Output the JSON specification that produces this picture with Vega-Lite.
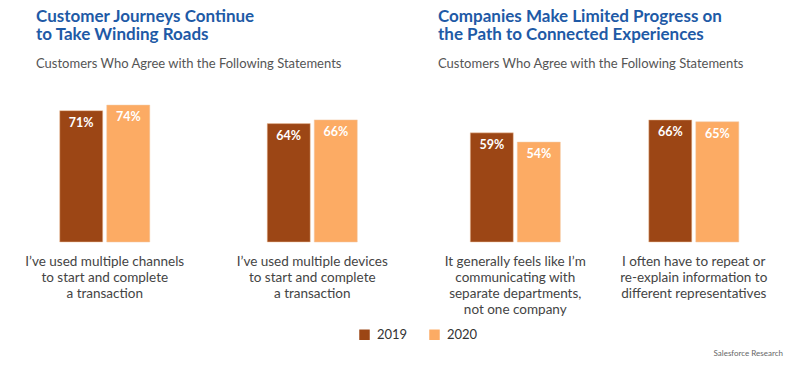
{
  "$schema": "https://vega.github.io/schema/vega-lite/v6.json",
  "padding": {"left": 1, "top": 8, "right": 15, "bottom": 6},
  "data": {"values": [
    {"panel": 1, "statement": "I’ve used multiple channels|to start and complete|a transaction", "year": "2019", "value": 71, "label": "71%"},
    {"panel": 1, "statement": "I’ve used multiple channels|to start and complete|a transaction", "year": "2020", "value": 74, "label": "74%"},
    {"panel": 1, "statement": "I’ve used multiple devices|to start and complete|a transaction", "year": "2019", "value": 64, "label": "64%"},
    {"panel": 1, "statement": "I’ve used multiple devices|to start and complete|a transaction", "year": "2020", "value": 66, "label": "66%"},
    {"panel": 2, "statement": "It generally feels like I’m|communicating with|separate departments,|not one company", "year": "2019", "value": 59, "label": "59%"},
    {"panel": 2, "statement": "It generally feels like I’m|communicating with|separate departments,|not one company", "year": "2020", "value": 54, "label": "54%"},
    {"panel": 2, "statement": "I often have to repeat or|re-explain information to|different representatives", "year": "2019", "value": 66, "label": "66%"},
    {"panel": 2, "statement": "I often have to repeat or|re-explain information to|different representatives", "year": "2020", "value": 65, "label": "65%"}
  ]},
  "title": {"text": "Salesforce Research", "orient": "bottom", "anchor": "end", "fontSize": 8, "font": "Lato", "fontWeight": "normal", "color": "#666", "offset": 8},
  "spacing": 10,
  "hconcat": [
    {
      "width": 415,
      "height": 148,
      "title": {"text": ["Customer Journeys Continue", "to Take Winding Roads"], "subtitle": "Customers Who Agree with the Following Statements", "dx": 35},
      "transform": [{"filter": "datum.panel == 1"}],
      "encoding": {
        "x": {"field": "statement", "type": "nominal", "sort": null, "title": null,
              "scale": {"paddingInner": 0.566, "paddingOuter": 0.283},
              "axis": {"labelExpr": "split(datum.value, '|')"}},
        "xOffset": {"field": "year", "type": "nominal", "scale": {"paddingInner": 0.085, "paddingOuter": 0}},
        "y": {"field": "value", "type": "quantitative", "scale": {"domain": [0, 80]}, "axis": null}
      },
      "layer": [
        {"mark": {"type": "bar", "strokeWidth": 1, "strokeOpacity": 0.5, "stroke": "#f3c9a6"},
         "encoding": {"color": {"field": "year", "type": "nominal", "title": null,
            "scale": {"domain": ["2019", "2020"], "range": ["#9c4615", "#fcab64"]},
            "legend": {"orient": "none", "legendX": 357, "legendY": 234, "direction": "horizontal"}}}},
        {"mark": {"type": "text", "baseline": "top", "dy": 6, "color": "white", "fontWeight": "bold", "fontSize": 12.5, "font": "Lato"},
         "encoding": {"text": {"field": "label", "type": "nominal"}, "detail": {"field": "year"}}}
      ]
    },
    {
      "width": 357,
      "height": 148,
      "title": {"text": ["Companies Make Limited Progress on", "the Path to Connected Experiences"], "subtitle": "Customers Who Agree with the Following Statements", "dx": 12},
      "transform": [{"filter": "datum.panel == 2"}],
      "encoding": {
        "x": {"field": "statement", "type": "nominal", "sort": null, "title": null,
              "scale": {"paddingInner": 0.496, "paddingOuter": 0.248},
              "axis": {"labelExpr": "split(datum.value, '|')"}},
        "xOffset": {"field": "year", "type": "nominal", "scale": {"paddingInner": 0.085, "paddingOuter": 0}},
        "y": {"field": "value", "type": "quantitative", "scale": {"domain": [0, 80]}, "axis": null}
      },
      "layer": [
        {"mark": {"type": "bar", "strokeWidth": 1, "strokeOpacity": 0.5, "stroke": "#f3c9a6"},
         "encoding": {"color": {"field": "year", "type": "nominal", "title": null,
            "scale": {"domain": ["2019", "2020"], "range": ["#9c4615", "#fcab64"]},
            "legend": {"orient": "none", "legendX": 357, "legendY": 234, "direction": "horizontal"}}}},
        {"mark": {"type": "text", "baseline": "top", "dy": 6, "color": "white", "fontWeight": "bold", "fontSize": 12.5, "font": "Lato"},
         "encoding": {"text": {"field": "label", "type": "nominal"}, "detail": {"field": "year"}}}
      ]
    }
  ],
  "config": {
    "view": {"stroke": null},
    "title": {"anchor": "start", "font": "Lato", "fontSize": 17, "fontWeight": "bold", "color": "#1e5aa6", "lineHeight": 18,
              "subtitleFont": "Lato", "subtitleFontSize": 13, "subtitleColor": "#555", "subtitlePadding": 14, "offset": 22},
    "axisX": {"domain": false, "ticks": false, "labelAngle": 0, "labelFont": "Lato", "labelFontSize": 13.5, "labelColor": "#444",
              "labelLineHeight": 16, "labelPadding": 12, "labelLimit": 0},
    "legend": {"symbolType": "square", "symbolSize": 110,
               "symbolStrokeWidth": 0, "symbolOpacity": 1, "labelFont": "Lato", "labelFontSize": 13, "labelColor": "#333", "columnPadding": 20, "labelOffset": 6}
  }
}
